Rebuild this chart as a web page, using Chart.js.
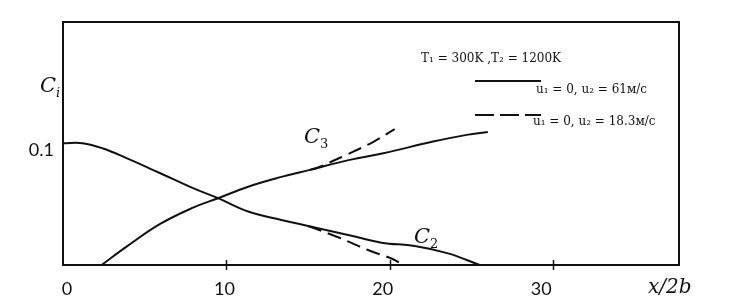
<!doctype html>
<html lang="ru">
<head>
<meta charset="utf-8">
<title>C2, C3</title>
<script src="https://cdn.jsdelivr.net/npm/chart.js@4.4.0/dist/chart.umd.min.js"></script>
<style>
  html, body { margin: 0; padding: 0; background: #fff; }
  #wrap { width: 734px; height: 307px; }
</style>
</head>
<body>
<div id="wrap"><canvas id="chart"></canvas></div>
<script>
// datos (x/2b , Ci)
var c2x = [0, 1.2, 2.45, 3.89, 5.92, 7.96, 9.49, 11.33, 13.37, 15.0, 17.45, 19.49, 21.53, 23.57, 25.5];
var c2y = [0.1058, 0.1058, 0.1012, 0.0928, 0.0799, 0.0667, 0.058, 0.0464, 0.0391, 0.0339, 0.0261, 0.0194, 0.0165, 0.0101, 0];
var c2xDash = [15.0, 16.84, 18.67, 20.2, 20.8];
var c2yDash = [0.0339, 0.0241, 0.013, 0.005, 0];

var c3x = [2.36, 3.89, 5.92, 7.96, 9.49, 11.33, 13.37, 15.1, 17.55, 19.6, 22.65, 24.7, 26.0];
var c3y = [0, 0.0159, 0.0354, 0.0498, 0.058, 0.068, 0.0765, 0.0826, 0.0913, 0.097, 0.1072, 0.113, 0.1154];
var c3xDash = [15.1, 15.5, 17.35, 19.0, 20.3];
var c3yDash = [0.0826, 0.084, 0.0957, 0.107, 0.118];

var xTicks = [0, 10, 20, 30];
var xTickLabels = ['0', '10', '20', '30'];
var yTicks = [0.1];
var yTickLabels = ['0.1'];

function pts(xs, ys) {
  return xs.map(function (v, i) { return { x: v, y: ys[i] }; });
}

function serie(xs, ys, dash) {
  return {
    data: pts(xs, ys),
    showLine: true,
    borderColor: '#111',
    borderWidth: 2,
    borderDash: dash,
    pointRadius: 0,
    tension: 0.4,
    fill: false
  };
}

// texto con subindice (C_i, C_2 ...)
function conSub(ctx, x, y, main, sub, subItalic) {
  ctx.font = 'italic 21px "DejaVu Serif"';
  ctx.textAlign = 'left';
  ctx.textBaseline = 'alphabetic';
  ctx.fillText(main, x, y);
  var w = ctx.measureText(main).width;
  ctx.font = (subItalic ? 'italic ' : '') + '13px "DejaVu Serif"';
  ctx.fillText(sub, x + w, y + 5);
}

var dibujo = {
  id: 'dibujo',
  afterDraw: function (chart) {
    var ctx = chart.ctx, a = chart.chartArea, sx = chart.scales.x, sy = chart.scales.y;
    ctx.save();
    ctx.fillStyle = '#111';
    ctx.strokeStyle = '#111';

    // marco
    ctx.lineWidth = 2;
    ctx.strokeRect(a.left, a.top, a.right - a.left, a.bottom - a.top);

    // marcas del eje x
    ctx.lineWidth = 1.5;
    xTicks.forEach(function (v) {
      if (v === 0) return;
      var px = Math.round(sx.getPixelForValue(v)) + 0.5;
      ctx.beginPath();
      ctx.moveTo(px, a.bottom - 5);
      ctx.lineTo(px, a.bottom + 5);
      ctx.stroke();
    });

    // etiquetas del eje x (en la figura van un poco corridas)
    var corrimiento = [4, -2, -7, -12];
    ctx.font = '18px Lato';
    ctx.textAlign = 'center';
    ctx.textBaseline = 'middle';
    xTicks.forEach(function (v, i) {
      ctx.fillText(xTickLabels[i], sx.getPixelForValue(v) + corrimiento[i], a.bottom + 24);
    });
    ctx.textAlign = 'right';
    yTicks.forEach(function (v, i) {
      ctx.fillText(yTickLabels[i], a.left - 9, sy.getPixelForValue(v));
    });

    // titulos de ejes
    ctx.font = 'italic 20px "DejaVu Serif"';
    ctx.textAlign = 'left';
    ctx.textBaseline = 'middle';
    ctx.fillText('x/2b', 648, a.bottom + 23);
    conSub(ctx, 40, 92, 'C', 'i', true);

    // nombres de curvas
    conSub(ctx, 304, 143, 'C', '3', false);
    conSub(ctx, 414, 243, 'C', '2', false);

    // leyenda
    ctx.font = '12px "DejaVu Serif"';
    ctx.textBaseline = 'middle';
    ctx.fillText('T\u2081 = 300K ,T\u2082 = 1200K', 421, 59, 148);
    ctx.fillText('u\u2081 = 0, u\u2082 = 61\u043c/\u0441', 536, 90, 124);
    ctx.fillText('u\u2081 = 0, u\u2082 = 18.3\u043c/\u0441', 533, 122, 133);

    ctx.lineWidth = 2;
    ctx.beginPath();
    ctx.moveTo(475, 81);
    ctx.lineTo(541, 81);
    ctx.stroke();
    ctx.setLineDash([19, 6]);
    ctx.beginPath();
    ctx.moveTo(475, 115);
    ctx.lineTo(541, 115);
    ctx.stroke();
    ctx.restore();
  }
};

new Chart(document.getElementById('chart').getContext('2d'), {
  type: 'scatter',
  data: {
    datasets: [
      serie(c2x, c2y, []),
      serie(c2xDash, c2yDash, [14, 7]),
      serie(c3x, c3y, []),
      serie(c3xDash, c3yDash, [14, 7])
    ]
  },
  options: {
    responsive: true,
    maintainAspectRatio: false,
    animation: false,
    layout: { padding: { left: 63, top: 22, right: 55, bottom: 42 } },
    plugins: { legend: { display: false }, tooltip: { enabled: false } },
    scales: {
      x: { type: 'linear', min: 0, max: 37.7, display: false },
      y: { type: 'linear', min: 0, max: 0.211, display: false }
    }
  },
  plugins: [dibujo]
});
</script>
</body>
</html>
